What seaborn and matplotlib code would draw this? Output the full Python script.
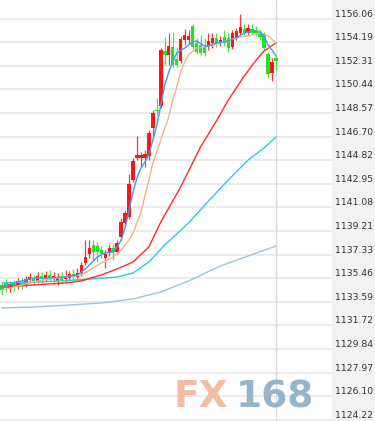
import numpy as np
import pandas as pd
import matplotlib
matplotlib.use("Agg")
import matplotlib.pyplot as plt
import seaborn as sns

# ---------------- data ----------------
opens = [1134.93, 1135.09, 1134.69, 1135.01, 1134.85, 1135.17, 1134.93, 1135.33, 1135.48, 1135.25,
         1135.64, 1135.41, 1135.72, 1135.48, 1135.25, 1135.64, 1135.41, 1135.48, 1135.80, 1135.56,
         1135.88, 1136.67, 1137.39, 1138.10, 1138.02, 1137.71, 1137.07, 1137.47, 1137.86, 1137.55,
         1138.74, 1139.85, 1140.32, 1143.26, 1145.00, 1145.00, 1145.00, 1145.16, 1147.38, 1148.81,
         1149.12, 1153.49, 1153.17, 1153.80, 1152.85, 1152.69, 1154.36, 1154.36, 1155.47, 1154.12,
         1153.96, 1153.80, 1153.80, 1154.12, 1154.52, 1154.12, 1154.60, 1154.52, 1153.80, 1154.52,
         1154.91, 1155.23, 1154.91, 1155.23, 1155.15, 1154.99, 1154.75, 1153.25, 1151.74, 1152.93]
closes = [1134.53, 1134.69, 1135.01, 1134.77, 1135.25, 1134.93, 1135.41, 1135.56, 1135.25, 1135.64,
          1135.41, 1135.72, 1135.48, 1135.64, 1135.56, 1135.33, 1135.64, 1135.80, 1135.56, 1135.88,
          1136.52, 1137.15, 1137.86, 1137.55, 1137.55, 1137.39, 1137.39, 1137.86, 1137.55, 1138.26,
          1139.93, 1140.64, 1142.94, 1144.76, 1145.24, 1145.24, 1145.32, 1146.98, 1148.57, 1148.73,
          1153.57, 1153.17, 1153.88, 1152.37, 1152.37, 1154.44, 1154.75, 1154.68, 1153.80, 1153.41,
          1153.33, 1153.33, 1154.28, 1154.52, 1154.12, 1154.36, 1154.12, 1153.72, 1154.91, 1155.07,
          1155.39, 1154.91, 1155.31, 1154.91, 1154.91, 1154.60, 1153.72, 1151.66, 1152.61, 1152.69]
highs = [1135.17, 1135.41, 1135.25, 1135.33, 1135.48, 1135.48, 1135.64, 1135.88, 1135.72, 1135.96,
         1135.96, 1136.04, 1136.12, 1135.96, 1135.88, 1135.96, 1136.12, 1136.04, 1136.20, 1136.28,
         1136.75, 1138.50, 1138.50, 1138.50, 1138.34, 1138.02, 1137.71, 1138.18, 1138.18, 1138.50,
         1140.24, 1140.88, 1143.73, 1145.00, 1146.75, 1145.48, 1145.64, 1147.22, 1148.81, 1149.76,
         1153.72, 1154.60, 1154.91, 1154.99, 1153.80, 1154.68, 1155.23, 1155.15, 1155.63, 1154.52,
         1154.75, 1154.52, 1154.91, 1154.91, 1154.91, 1154.68, 1155.15, 1154.91, 1155.15, 1155.31,
         1156.42, 1155.63, 1155.63, 1155.63, 1155.47, 1155.23, 1154.99, 1153.41, 1152.93, 1153.09]
lows = [1134.14, 1134.37, 1134.37, 1134.45, 1134.61, 1134.61, 1134.77, 1135.09, 1134.93, 1135.09,
        1135.09, 1135.25, 1135.25, 1135.17, 1134.93, 1135.09, 1135.17, 1135.33, 1135.33, 1135.41,
        1135.64, 1136.52, 1137.07, 1136.91, 1136.75, 1137.07, 1136.28, 1137.23, 1136.91, 1137.39,
        1138.50, 1139.61, 1140.16, 1143.10, 1144.84, 1144.29, 1144.29, 1144.84, 1146.75, 1148.41,
        1148.97, 1152.37, 1152.37, 1152.22, 1152.22, 1152.53, 1153.96, 1154.04, 1153.64, 1153.25,
        1153.17, 1153.09, 1153.57, 1153.72, 1153.80, 1153.88, 1153.88, 1153.41, 1153.64, 1154.36,
        1154.75, 1154.75, 1154.75, 1154.75, 1154.68, 1154.36, 1153.57, 1151.42, 1151.11, 1151.98]

ma5_idx = [0, 4, 8, 12, 16, 19, 21, 24, 26, 28, 29, 30, 31, 32, 33, 34, 35, 36, 37, 38, 39, 40,
           41, 42, 43, 44, 46, 48, 49, 51, 52, 54, 56, 59, 61, 63, 65, 66, 67, 68, 69]
ma5_val = [1134.69, 1135.17, 1135.48, 1135.48, 1135.56, 1135.72, 1136.20, 1137.15, 1137.47, 1137.55,
           1137.94, 1138.50, 1139.45, 1140.88, 1142.30, 1143.42, 1144.21, 1144.68, 1145.24, 1146.43,
           1147.62, 1149.20, 1150.79, 1151.82, 1152.61, 1153.33, 1153.72, 1154.20, 1154.28, 1153.88,
           1153.88, 1154.12, 1154.20, 1154.52, 1154.91, 1155.07, 1154.99, 1154.68, 1153.96, 1153.57,
           1153.09]
ma10_idx = [0, 5, 10, 16, 20, 23, 25, 28, 30, 31, 32, 33, 35, 37, 38, 40, 42, 43, 44, 45, 46, 47,
            49, 51, 54, 57, 60, 63, 65, 67, 69]
ma10_val = [1134.53, 1134.93, 1135.33, 1135.56, 1135.72, 1136.28, 1136.67, 1137.15, 1137.71, 1138.10,
            1138.50, 1139.05, 1140.72, 1143.26, 1144.60, 1146.43, 1148.25, 1149.60, 1150.63, 1151.82,
            1152.61, 1153.17, 1153.72, 1153.80, 1154.04, 1154.36, 1154.60, 1154.75, 1154.91, 1154.68,
            1154.12]
ma20_idx = [0, 8, 16, 20, 25, 29, 33, 37, 40, 45, 50, 54, 57, 61, 64, 66, 69]
ma20_val = [1134.77, 1134.93, 1135.09, 1135.25, 1135.72, 1136.20, 1136.75, 1137.94, 1139.93, 1142.70,
            1145.87, 1147.94, 1149.60, 1151.50, 1152.77, 1153.49, 1154.12]
ma40_idx = [0, 10, 19, 29, 33, 37, 41, 47, 52, 57, 62, 66, 69]
ma40_val = [1135.09, 1135.17, 1135.33, 1135.56, 1135.88, 1136.75, 1138.10, 1139.85, 1141.59, 1143.26,
            1144.84, 1145.80, 1146.67]
ma60_idx = [0, 8, 17, 25, 33, 40, 47, 55, 62, 69]
ma60_val = [1133.11, 1133.18, 1133.34, 1133.50, 1133.82, 1134.37, 1135.25, 1136.44, 1137.23, 1138.02]

tick_values = [1156.06, 1154.19, 1152.31, 1150.44, 1148.57, 1146.70, 1144.82, 1142.95, 1141.08,
               1139.21, 1137.33, 1135.46, 1133.59, 1131.72, 1129.84, 1127.97, 1126.10, 1124.22]
tick_labels = ["1156.06", "1154.19", "1152.31", "1150.44", "1148.57", "1146.70", "1144.82", "1142.95",
               "1141.08", "1139.21", "1137.33", "1135.46", "1133.59", "1131.72", "1129.84", "1127.97",
               "1126.10", "1124.22"]

# ---------------- styling ----------------
sns.set_theme(style="white")
plt.rcParams['font.family'] = ['DejaVu Sans']

UP = '#ff1414'
DOWN = '#1ee61e'

W, H = 375, 421
fig = plt.figure(figsize=(W / 100, H / 100), dpi=100, facecolor='#f2f2f2')
ax = fig.add_axes([0, 0, 332 / W, 1])
ax.set_facecolor('white')

n = len(opens)
idx = np.arange(n)
o = np.array(opens); c = np.array(closes); h = np.array(highs); l = np.array(lows)
up = c >= o
colors = np.where(up, UP, DOWN)

# current-bar vertical line
ax.axvline(n - 1, color='#dcdcdc', lw=1.0, zorder=1)

# wicks
ax.vlines(idx, l, h, colors=colors, lw=0.9, alpha=0.85, zorder=2)
# bodies
bottoms = np.minimum(o, c)
heights = np.maximum(np.abs(c - o), 0.1)
ax.bar(idx, heights, bottom=bottoms, width=0.86, color=colors, edgecolor='none', zorder=3)

# moving averages
frames = []
for name, xs, vs in [('ma60', ma60_idx, ma60_val), ('ma40', ma40_idx, ma40_val),
                     ('ma20', ma20_idx, ma20_val), ('ma10', ma10_idx, ma10_val),
                     ('ma5', ma5_idx, ma5_val)]:
    frames.append(pd.DataFrame({'idx': xs, 'value': vs, 'ma': name}))
df = pd.concat(frames, ignore_index=True)
palette = {'ma5': '#3d9bff', 'ma10': '#f0b386', 'ma20': '#ff2a2a', 'ma40': '#27cfd6', 'ma60': '#9fc3dc'}
sns.lineplot(data=df, x='idx', y='value', hue='ma', palette=palette, legend=False,
             linewidth=1.0, ax=ax, zorder=4, sort=True, estimator=None)

ax.set_xlim(-0.5, 83.1)
ax.set_ylim(1124.14, 1157.53)
ax.set_yticks(tick_values)
ax.set_yticklabels(tick_labels)
ax.yaxis.tick_right()
ax.tick_params(axis='y', length=0, pad=1.8, labelsize=6.7, labelcolor='#333333')
for lab in ax.get_yticklabels():
    lab.set_va('bottom')
ax.set_xticks([])
ax.set_xlabel('')
ax.set_ylabel('')
ax.grid(axis='y', color='#ebebeb', lw=1.4, zorder=0)
ax.grid(axis='x', visible=False)
ax.set_axisbelow(True)
for s in ax.spines.values():
    s.set_visible(False)

# watermark
fig.text(200.5 / W, 1 - 407 / H, 'FX', fontsize=27, fontweight='bold', color='#f5b49a',
         ha='center', va='baseline', alpha=0.92, zorder=10)
fig.text(275 / W, 1 - 407 / H, '168', fontsize=27, fontweight='bold', color='#8eafc6',
         ha='center', va='baseline', alpha=0.92, zorder=10)

fig.savefig('out.png', dpi=100, facecolor=fig.get_facecolor())
